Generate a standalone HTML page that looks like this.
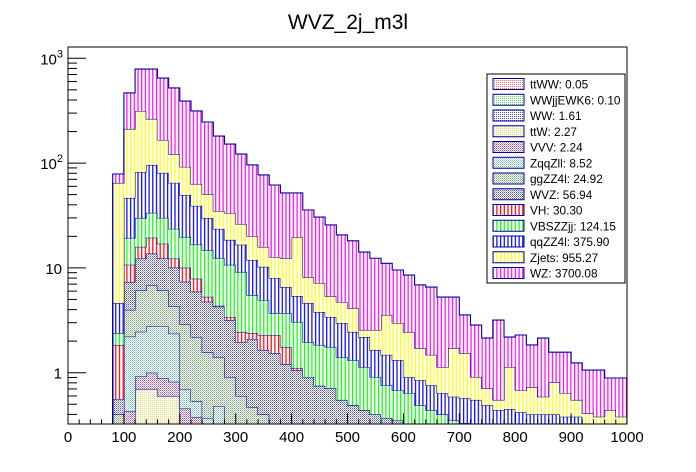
<!DOCTYPE html>
<html><head><meta charset="utf-8"><style>
html,body{margin:0;padding:0;background:#fff;}
svg{display:block;font-family:"Liberation Sans",sans-serif;}
</style></head><body>
<svg id="chart" width="696" height="472" viewBox="0 0 696 472">
<defs>
<pattern id="vh-red" patternUnits="userSpaceOnUse" width="3.7" height="4"><rect width="3.7" height="4" fill="#fff"/><rect x="0.5" width="1.2" height="4" fill="#ff0000"/></pattern>
<pattern id="vh-green" patternUnits="userSpaceOnUse" width="3.7" height="4"><rect width="3.7" height="4" fill="#fff"/><rect x="0.5" width="1.2" height="4" fill="#00ff00"/></pattern>
<pattern id="vh-blue" patternUnits="userSpaceOnUse" width="3.7" height="4"><rect width="3.7" height="4" fill="#fff"/><rect x="0.5" width="1.2" height="4" fill="#0000ff"/></pattern>
<pattern id="vh-yellow" patternUnits="userSpaceOnUse" width="3.7" height="4"><rect width="3.7" height="4" fill="#fff"/><rect x="0.5" width="1.2" height="4" fill="#ffff00"/></pattern>
<pattern id="vh-magenta" patternUnits="userSpaceOnUse" width="3.7" height="4"><rect width="3.7" height="4" fill="#fff"/><rect x="0.5" width="1.2" height="4" fill="#ff00ff"/></pattern>
<pattern id="ck-red" patternUnits="userSpaceOnUse" width="2" height="2"><rect width="2" height="2" fill="#fff"/><rect width="1" height="1" fill="#ff6666"/></pattern>
<pattern id="ck-green" patternUnits="userSpaceOnUse" width="2" height="2"><rect width="2" height="2" fill="#fff"/><rect width="1" height="1" fill="#55dd55"/></pattern>
<pattern id="ck-blue" patternUnits="userSpaceOnUse" width="2" height="2"><rect width="2" height="2" fill="#fff"/><rect width="1" height="1" fill="#4444cc"/></pattern>
<pattern id="ck-yellow" patternUnits="userSpaceOnUse" width="2" height="2"><rect width="2" height="2" fill="#f4f4f4"/><rect width="1" height="1" fill="#e8e860"/></pattern>
<pattern id="ck-magenta" patternUnits="userSpaceOnUse" width="2" height="2"><rect width="2" height="2" fill="#fff"/><rect width="1" height="1" fill="#cc44cc"/><rect x="1" y="1" width="1" height="1" fill="#aaaaaa"/></pattern>
<pattern id="ck-cyan" patternUnits="userSpaceOnUse" width="2" height="2"><rect width="2" height="2" fill="#fff"/><rect width="1" height="1" fill="#66cccc"/><rect x="1" y="1" width="1" height="1" fill="#cccccc"/></pattern>
<pattern id="ck-ggzz" patternUnits="userSpaceOnUse" width="2" height="2"><rect width="2" height="2" fill="#fff"/><rect width="1" height="1" fill="#66aa66"/><rect x="1" y="1" width="1" height="1" fill="#bbbbbb"/></pattern>
<pattern id="ck-wvz" patternUnits="userSpaceOnUse" width="2" height="2"><rect width="2" height="2" fill="#fff"/><rect width="1" height="1" fill="#555599"/><rect x="1" y="1" width="1" height="1" fill="#9999bb"/></pattern>
<clipPath id="frame-clip"><rect x="68" y="47" width="559" height="377"/></clipPath>
</defs>
<text x="348" y="29" text-anchor="middle" font-size="21" fill="#000">WVZ_2j_m3l</text>
<g id="bars" clip-path="url(#frame-clip)"></g>
<rect x="68" y="47" width="559" height="377" fill="none" stroke="#000" stroke-width="1"/>
<g id="axes"></g>
<g id="legend"></g>
</svg>
<script>
// ---- data ----
const binLow = 80;
const binWidth = 20;
const xTicks = [0,100,200,300,400,500,600,700,800,900,1000];
const yTicks = [1,10,100,1000];
const yTickLabels = ["1","10","10²","10³"];
const seriesNames = ["ttWW","WWjjEWK6","WW","ttW","VVV","ZqqZll","ggZZ4l","WVZ","VH","VBSZZjj","qqZZ4l","Zjets","WZ"];
const legendLabels = ["ttWW: 0.05","WWjjEWK6: 0.10","WW: 1.61","ttW: 2.27","VVV: 2.24","ZqqZll: 8.52","ggZZ4l: 24.92","WVZ: 56.94","VH: 30.30","VBSZZjj: 124.15","qqZZ4l: 375.90","Zjets: 955.27","WZ: 3700.08"];
const ttWW = [0,0,0.01,0.01,0.01,0.01,0.005,0.005];
const WWjj = [0,0,0.01,0.02,0.02,0.01,0.01,0.01];
const WW = [0,0.02,0.05,0.06,0.06,0.05,0.04,0.03,0.03,0.02];
const ttW = [0,0,0.63,0.61,0.51,0.53];
const VVV = [0,0.41,0.22,0.30,0.29,0.22,0.40,0.33];
const ZqqZll = [0,1.78,1.54,1.76,1.87,1.54,0.24,0.16,0.34,0.46];
const ggZZ4l = [0.40,1.77,3.63,4.05,3.35,1.95,2.21,1.65,1.2,0.92,0.91,0.60,0.47,0.40,0.30,0.25,0.2,0.15,0.1,0.05];
const WVZ = [0.16,3.37,6.2,6.9,6.2,5.76,4.48,3.75,3.19,2.86,2.27,1.36,1.63,1.25,1.24,0.96,0.86,0.76,0.65,0.66,0.55,0.49,0.44,0.40,0.37,0.35,0.3,0.25,0.2,0.15,0.1,0.1,0.05,0.05,0.05,0.05,0.05,0.03,0.03,0.03,0.03,0.03,0.02,0.02,0.02,0.02];
const VH = [1.28,3.37,3.6,5.7,4.7,2.2,2.67,1.95,0.54,0.09,0.22,0.49,0.29,0.64,0.75,0.55,0.05];
const VBSZZjj = [0.55,8.6,14.1,14.1,13.0,11.3,9.7,8.8,9.5,8.1,7.3,6.7,3.12,2.65,1.42,1.95,1.94,1.05,1.09,1.05,0.86,0.83,0.69,0.51,0.39,0.33,0.34,0.24,0.24,0.25,0.25,0.23,0.25,0.2,0.2,0.2,0.17,0.17,0.17,0.17,0.15,0.15,0.12,0.12,0.12,0.12];
const qqZZ4l = [2.23,27.2,52.1,62.6,50.6,41.2,29.9,22.4,15.1,11.1,7.8,7.5,6.4,5.3,4.3,2.86,2.34,2.66,1.95,1.64,1.57,1.13,1.06,0.74,0.72,0.64,0.27,0.36,0.32,0.24,0.24,0.24,0.25,0.24,0.19,0.2,0.2,0.2,0.2,0.2,0.2,0.2,0.15,0.14,0.15,0.14];
const Zjets = [60.1,165.5,232,168,85.5,57.3,42.4,24.2,20.8,11.4,14.9,9.6,8.2,5.6,4.7,5.8,14.3,3.56,3.39,1.99,1.75,1.69,0.37,0.91,2.08,1.66,1.54,0.87,0.72,0.49,1.13,0.97,0.36,0.22,0.11,0.68,0.26,0.33,0.19,0.41,0.26,0.17,0.12,0.1,0.15,0.1];
const WZ = [14.0,255,476,526,482,399,299,251,196,146,118.6,95.8,75.9,61.2,49.1,39.5,32.2,27.5,23.4,20.3,15.9,14.0,11.6,9.8,7.5,6.57,6.1,5.15,5.09,4.14,3.55,2.02,1.94,1.43,2.63,1.06,1.61,1.11,1.55,0.76,0.93,0.69,0.65,0.68,0.45,0.51];
const nBins = 46;

// ---- axis functions ----
const X0 = 68, X1 = 627, Y_TOP = 47, Y_BOT = 424.3;
const xScale = v => X0 + (v / 1000) * (X1 - X0);
const yScale = v => { if (v <= 0) return Y_BOT + 5; const y = 372.7 - 104.8 * Math.log10(v); return Math.min(y, Y_BOT + 5); };

const NS = "http://www.w3.org/2000/svg";
const mk = (t, a) => { const e = document.createElementNS(NS, t); for (const k in a) e.setAttribute(k, a[k]); return e; };

const seriesData = [ttWW, WWjj, WW, ttW, VVV, ZqqZll, ggZZ4l, WVZ, VH, VBSZZjj, qqZZ4l, Zjets, WZ];
const fills = ["ck-red","ck-green","ck-blue","ck-yellow","ck-magenta","ck-cyan","ck-ggzz","ck-wvz","vh-red","vh-green","vh-blue","vh-yellow","vh-magenta"];
const outline = "#000099";

const bars = document.getElementById("bars");
let cum = new Array(nBins).fill(0);
seriesData.forEach((arr, s) => {
  const lower = cum.slice();
  const upper = cum.map((c, i) => c + (arr[i] || 0));
  const g = mk("g", {});
  
  
  for (let i = 0; i < nBins; i++) {
    const v = arr[i] || 0;
    if (v <= 0) continue;
    const xa = xScale(binLow + i * binWidth), xb = xScale(binLow + (i + 1) * binWidth);
    const yt = yScale(upper[i]), yb = lower[i] > 0 ? yScale(lower[i]) : Y_BOT + 5;
    if (yb - yt <= 0) continue;
    const r = mk("rect", {x: xa, y: yt, width: xb - xa, height: yb - yt, fill: "url(#" + fills[s] + ")"});
    
    
    g.appendChild(r);
  }
  const total = arr.reduce((a, b) => a + b, 0);
  if (total > 0) {
    let d = "M" + xScale(binLow) + "," + (Y_BOT + 5);
    for (let i = 0; i < nBins; i++) {
      const y = yScale(upper[i]);
      d += " L" + xScale(binLow + i * binWidth) + "," + y + " L" + xScale(binLow + (i + 1) * binWidth) + "," + y;
    }
    d += " L" + xScale(binLow + nBins * binWidth) + "," + (Y_BOT + 5);
    const p = mk("path", {d: d, fill: "none", stroke: outline, "stroke-width": 1.1});
    
    
    g.appendChild(p);
  }
  bars.appendChild(g);
  cum = upper;
});

// ---- axes ----
const axes = document.getElementById("axes");
for (let v = 0; v <= 1000; v += 20) {
  const major = v % 100 === 0;
  const x = xScale(v);
  const t = mk("line", {x1: x, x2: x, y1: Y_BOT, y2: Y_BOT - (major ? 11 : 5), stroke: "#000", "stroke-width": 1});
  
  
  axes.appendChild(t);
}
xTicks.forEach(v => {
  const t = mk("text", {x: xScale(v), y: 442, "text-anchor": "middle", "font-size": 15});
  t.textContent = v;
  
  
  axes.appendChild(t);
});
for (let e = -1; e <= 3; e++) {
  for (let m = 1; m <= 9; m++) {
    const v = m * Math.pow(10, e);
    const y = yScale(v);
    if (y < Y_TOP || y > Y_BOT) continue;
    const t = mk("line", {x1: X0, x2: X0 + (m === 1 ? 18 : 9), y1: y, y2: y, stroke: "#000", "stroke-width": 1});
    
    
    axes.appendChild(t);
  }
}
yTicks.forEach((v, i) => {
  const y = yScale(v);
  const t = mk("text", {x: 62, y: y + 6, "text-anchor": "end", "font-size": 15});
  const lab = yTickLabels[i];
  if (lab.length > 2) {
    t.textContent = "10";
    const sup = mk("tspan", {dy: -7, "font-size": 11});
    sup.textContent = lab === "10³" ? "3" : "2";
    t.appendChild(sup);
    t.setAttribute('x', 63);
  } else {
    t.textContent = lab;
  }
  
  
  axes.appendChild(t);
});

// ---- legend ----
const legend = document.getElementById("legend");
const box = mk("rect", {x: 487, y: 74, width: 138, height: 209, fill: "#fff", stroke: "#000", "stroke-width": 1});


legend.appendChild(box);
legendLabels.forEach((lab, i) => {
  const cy = 84 + i * 15.75;
  const g = mk("g", {});
  
  
  const sw = mk("rect", {x: 493, y: cy - 5.5, width: 31, height: 11, fill: "url(#" + fills[i] + ")", stroke: outline, "stroke-width": 1});
  
  
  g.appendChild(sw);
  const t = mk("text", {x: 530, y: cy + 4.5, "font-size": 11.8});
  t.textContent = lab;
  
  
  g.appendChild(t);
  legend.appendChild(g);
});
</script>
</body></html>
